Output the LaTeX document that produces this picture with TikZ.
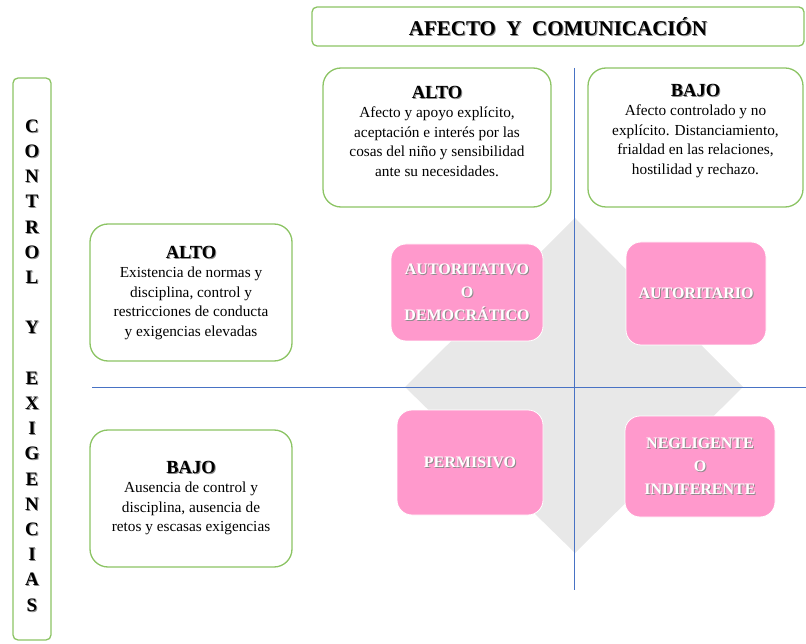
\documentclass[tikz,border=0pt]{standalone}
\usepackage{fontspec}
\setmainfont{Liberation Serif}
\usepackage{xcolor}
\usepackage{tikz}
\definecolor{boxgreen}{RGB}{140,196,100}
\definecolor{axisblue}{RGB}{72,114,196}
\definecolor{stylepink}{RGB}{255,153,204}
\definecolor{diamondgray}{RGB}{232,232,232}
\newcommand{\shad}[2][black!45]{\makebox[0pt][l]{\hspace{1pt}\raisebox{-1pt}{\textcolor{#1}{#2}}}#2}

\begin{document}
\begin{tikzpicture}[x=1pt,y=-1pt,
  greenbox/.style={draw=boxgreen, line width=1.3pt, rounded corners=18pt, fill=white},
  pinkbox/.style={draw=white, line width=0.8pt, fill=stylepink, rounded corners=15pt},
  bodytext/.style={align=center, font=\fontsize{15.3}{19.5}\selectfont, inner sep=0pt},
  pinktext/.style={align=center, text=white, font=\bfseries\fontsize{16}{23}\selectfont, inner sep=0pt},
  axis/.style={draw=axisblue, line width=0.9pt}]
\useasboundingbox (0,0) rectangle (806,644);
% title and side label
\node[greenbox, rounded corners=5pt, minimum width=492, minimum height=39] (Title) at (558,26.5) {};
\node[font=\bfseries\fontsize{21}{22}\selectfont] (TitleText) at (558,27) {\shad{AFECTO\ \ Y\ \ COMUNICACIÓN}};
\node[greenbox, rounded corners=5pt, minimum width=38, minimum height=562] (Side) at (32,359) {};
\node[align=center, inner sep=0pt, font=\bfseries\fontsize{19}{25.2}\selectfont] (SideText) at (32,366)
  {\shad{C}\\\shad{O}\\\shad{N}\\\shad{T}\\\shad{R}\\\shad{O}\\\shad{L}\\[25.2pt]\shad{Y}\\[25.2pt]\shad{E}\\\shad{X}\\\shad{I}\\\shad{G}\\\shad{E}\\\shad{N}\\\shad{C}\\\shad{I}\\\shad{A}\\\shad{S}};
% description boxes
\node[greenbox, minimum width=228, minimum height=139] (AfAlto) at (437,137.5) {};
\node[bodytext] (AfAltoText) at (437,131) {{\bfseries\fontsize{18.5}{19}\selectfont\shad{ALTO}}\\Afecto y apoyo explícito,\\aceptación e interés por las\\cosas del niño y sensibilidad\\ante su necesidades.};
\node[greenbox, minimum width=215, minimum height=139] (AfBajo) at (695.5,137.5) {};
\node[bodytext] (AfBajoText) at (695.5,131) {{\bfseries\fontsize{18.5}{19}\selectfont\shad{BAJO}}\\Afecto controlado y no\\explícito. Distanciamiento,\\frialdad en las relaciones,\\hostilidad y rechazo.};
\node[greenbox, minimum width=202, minimum height=137] (CoAlto) at (191,292.5) {};
\node[bodytext] (CoAltoText) at (191,293) {{\bfseries\fontsize{18.5}{19}\selectfont\shad{ALTO}}\\Existencia de normas y\\disciplina, control y\\restricciones de conducta\\y exigencias elevadas};
\node[greenbox, minimum width=202, minimum height=137] (CoBajo) at (191,498.5) {};
\node[bodytext] (CoBajoText) at (191,498) {{\bfseries\fontsize{18.5}{19}\selectfont\shad{BAJO}}\\Ausencia de control y\\disciplina, ausencia de\\retos y escasas exigencias};
% diamond and axes
\coordinate (DTop) at (575,218);
\coordinate (DRight) at (743,387);
\coordinate (DBottom) at (575,553);
\coordinate (DLeft) at (405,387);
\fill[diamondgray] (DTop) -- (DRight) -- (DBottom) -- (DLeft) -- cycle;
\coordinate (VTop) at (574,68);
\coordinate (VBottom) at (574,590);
\coordinate (HLeft) at (92,387);
\coordinate (HRight) at (806,387);
\draw[axis] (VTop) -- (VBottom);
\draw[axis] (HLeft) -- (HRight);
% parenting styles
\node[pinkbox, minimum width=152, minimum height=97] (Autoritativo) at (467,292.5) {};
\node[pinktext] at (Autoritativo) {\shad{AUTORITATIVO}\\\shad{O}\\\shad{DEMOCRÁTICO}};
\node[pinkbox, minimum width=140, minimum height=103] (Autoritario) at (696,293.5) {};
\node[pinktext] at (Autoritario) {\shad{AUTORITARIO}};
\node[pinkbox, minimum width=146, minimum height=105] (Permisivo) at (470,462.5) {};
\node[pinktext] at (Permisivo) {\shad{PERMISIVO}};
\node[pinkbox, minimum width=150, minimum height=101] (Negligente) at (700,466.5) {};
\node[pinktext] at (Negligente) {\shad{NEGLIGENTE}\\\shad{O}\\\shad{INDIFERENTE}};
\end{tikzpicture}
\end{document}
